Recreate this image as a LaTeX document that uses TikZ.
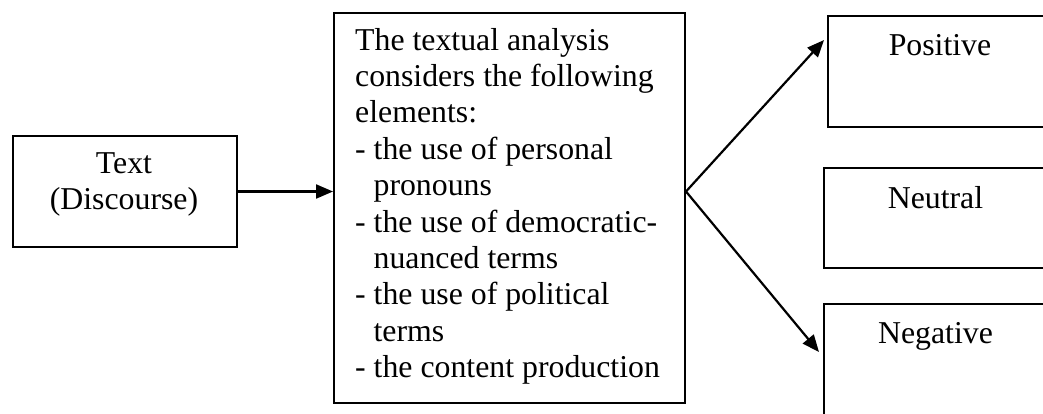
\documentclass[tikz,border=0pt]{standalone}
\usepackage{fontspec}
\setmainfont{Liberation Serif}
\usetikzlibrary{arrows.meta}
\newcommand\diagfont{\fontsize{31.8pt}{36.4pt}\selectfont}
\tikzset{
  boxshape/.style={draw=black, line width=2pt, rectangle, inner sep=0pt, anchor=north west},
  lbl/.style={inner sep=0pt, anchor=base, font=\diagfont},
  conn/.style={line width=2.2pt, -{Triangle[length=17pt,width=14pt]}}
}
\begin{document}
\begin{tikzpicture}[x=1pt,y=-1pt]
\useasboundingbox (0,0) rectangle (1043,413);
\clip (0,0) rectangle (1043,413);
% boxes
\node[boxshape, minimum width=224pt, minimum height=111pt] (tb) at (12,135) {};
\node[boxshape, minimum width=351pt, minimum height=390pt] (mid) at (333,12) {};
\node[boxshape, minimum width=225pt, minimum height=111pt] (pos) at (827,15) {};
\node[boxshape, minimum width=225pt, minimum height=100pt] (neu) at (823,167) {};
\node[boxshape, minimum width=225pt, minimum height=140pt] (neg) at (823,303) {};
% texts
\node[lbl] (tbtext) at (124,173) {\parbox[t]{224pt}{\centering Text\\(Discourse)}};
\node[inner sep=0pt, anchor=base west, font=\diagfont] (midtext) at (355,50) {\parbox[t]{325pt}{\raggedright
The textual analysis\\
considers the following\\
elements:\\
- the use of personal\\
\hspace*{18.4pt}pronouns\\
- the use of democratic-\\
\hspace*{18.4pt}nuanced terms\\
- the use of political\\
\hspace*{18.4pt}terms\\
- the content production}};
\node[lbl] (postext) at (940,55) {Positive};
\node[lbl] (neutext) at (935.5,208) {Neutral};
\node[lbl] (negtext) at (935.5,343) {Negative};
% connectors
\coordinate (fork) at (tb.east -| mid.east);
\draw[conn] (tb.east) -- (tb.east -| mid.west);
\draw[conn] (fork) -- ([xshift=-3pt,yshift=-25pt]pos.north west);
\draw[conn] (fork) -- ([xshift=-4pt,yshift=-49pt]neg.north west);
\end{tikzpicture}
\end{document}
